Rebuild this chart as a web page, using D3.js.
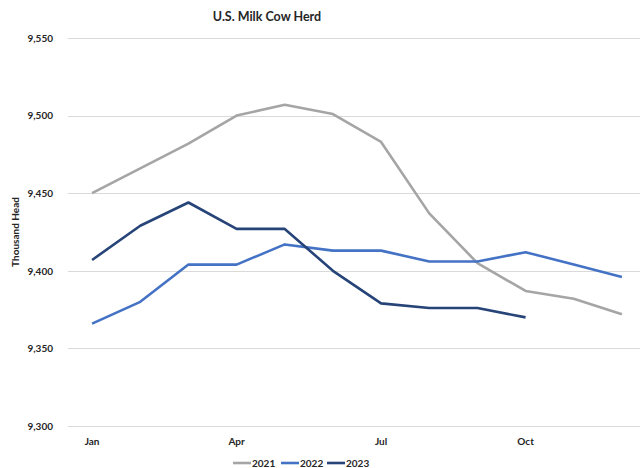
<!DOCTYPE html>
<html>
<head>
<meta charset="utf-8">
<script src="https://cdn.jsdelivr.net/npm/d3@7"></script>
<style>
	body { margin: 0; background: #fff; }
	text { font-family: Lato, 'Open Sans', sans-serif; font-weight: bold; fill: #262626; }
</style>
</head>
<body>
<div id="chart"></div>
<script>
const months = ['Jan', 'Feb', 'Mar', 'Apr', 'May', 'Jun', 'Jul', 'Aug', 'Sep', 'Oct', 'Nov', 'Dec'];
const shownMonths = ['Jan', 'Apr', 'Jul', 'Oct'];
const yTicks = [9300, 9350, 9400, 9450, 9500, 9550];
const herd2021 = [9450, 9466, 9482, 9500, 9507, 9501, 9483, 9437, 9405, 9387, 9382, 9372];
const herd2022 = [9366, 9380, 9404, 9404, 9417, 9413, 9413, 9406, 9406, 9412, 9404, 9396];
const herd2023 = [9407, 9429, 9444, 9427, 9427, 9400, 9379, 9376, 9376, 9370];

const series = [
	{ name: '2021', color: '#a5a5a5', values: herd2021 },
	{ name: '2022', color: '#4472c4', values: herd2022 },
	{ name: '2023', color: '#264478', values: herd2023 },
];

const width = 640;
const height = 468;
const margin = { top: 38, right: -6, bottom: 42, left: 68 };

const xScale = d3.scaleBand()
		.domain(months)
		.range([margin.left, width - margin.right]);
const yScale = d3.scaleLinear()
		.domain([9300, 9550])
		.range([height - margin.bottom, margin.top]);

const svg = d3.select('#chart').append('svg')
		.attr('width', width)
		.attr('height', height);

// gridlines
svg.append('g')
		.attr('class', 'grid')
	.selectAll('line')
	.data(yTicks)
	.join('line')
		.attr('x1', margin.left)
		.attr('x2', width - margin.right)
		.attr('y1', (d) => Math.round(yScale(d)) + 0.5)
		.attr('y2', (d) => Math.round(yScale(d)) + 0.5)
		.style('stroke', '#d9d9d9')
		.style('stroke-width', 1);

// y axis labels
const yAxis = d3.axisLeft(yScale)
		.tickValues(yTicks)
		.tickFormat(d3.format(','))
		.tickSize(0)
		.tickPadding(0);
svg.append('g')
		.attr('class', 'y axis')
		.attr('transform', 'translate(53, 0)')
		.call(yAxis)
		.call((g) => g.select('.domain').remove())
		.selectAll('text')
		.style('font-size', '10px');

// x axis labels
const xAxis = d3.axisBottom(xScale)
		.tickValues(shownMonths)
		.tickSize(0)
		.tickPadding(0);
svg.append('g')
		.attr('class', 'x axis')
		.attr('transform', 'translate(0, 438)')
		.call(xAxis)
		.call((g) => g.select('.domain').remove())
		.selectAll('text')
		.style('font-size', '10px');

svg.append('text')
		.attr('x', 267)
		.attr('y', 21)
		.style('text-anchor', 'middle')
		.style('font-size', '12.5px')
		.text('U.S. Milk Cow Herd');

svg.append('text')
		.attr('transform', 'translate(19, 232) rotate(-90)')
		.style('text-anchor', 'middle')
		.style('font-size', '10px')
		.text('Thousand Head');

const line = d3.line()
		.x((d, i) => xScale(months[i]) + xScale.bandwidth() / 2)
		.y((d) => yScale(d));

svg.append('g')
		.attr('class', 'lines')
	.selectAll('path')
	.data(series)
	.join('path')
		.attr('d', (d) => line(d.values))
		.style('fill', 'none')
		.style('stroke', (d) => d.color)
		.style('stroke-width', 2.6)
		.style('stroke-linejoin', 'round');

// legend
const legendX = [233, 281, 327];
const legend = svg.append('g')
		.attr('class', 'legend')
	.selectAll('g')
	.data(series)
	.join('g')
		.attr('transform', (d, i) => `translate(${legendX[i]}, 463)`);
legend.append('line')
		.attr('x1', 0)
		.attr('x2', 18)
		.style('stroke', (d) => d.color)
		.style('stroke-width', 2.6);
legend.append('text')
		.attr('x', 19)
		.attr('y', 4)
		.style('font-size', '10px')
		.text((d) => d.name);
</script>
</body>
</html>
